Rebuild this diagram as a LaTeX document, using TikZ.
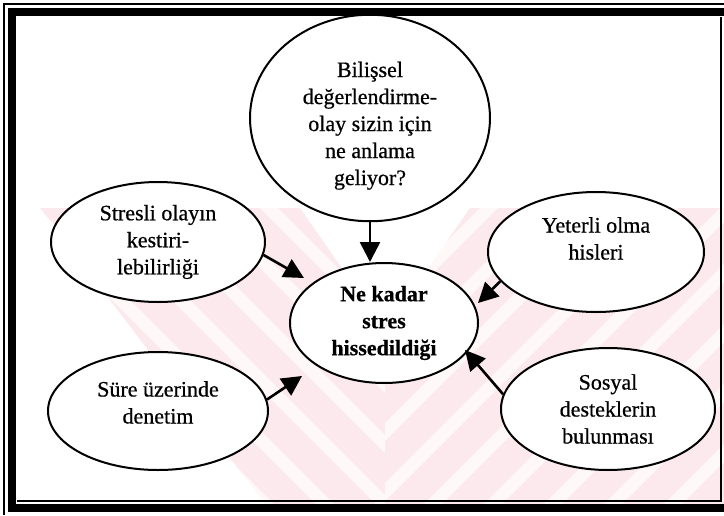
\documentclass[tikz,border=0pt]{standalone}
\usepackage{fontspec}
\setmainfont{Liberation Serif}
\newfontfamily\scanserif{Liberation Serif}[FakeBold=0.6]
\usetikzlibrary{shapes,arrows.meta,positioning}
\definecolor{wmpink}{RGB}{252,233,237}

\tikzset{
  bubble/.style={draw, ellipse, line width=1pt, fill=white, inner sep=0pt, align=center, font=\scanserif\fontsize{11}{13.5}\selectfont},
  link/.style={-{Triangle[length=10pt,width=10pt]}, line width=1.3pt},
}

\begin{document}
\begin{tikzpicture}[x=0.5pt, y=-0.5pt]
\useasboundingbox (0,0) rectangle (724,515);

% Watermark in the background
\fill[wmpink] (40,208) -- (300,208) -- (385,330) -- (470,208) -- (724,208) -- (724,504) -- (265,504) -- cycle;
\begin{scope}
\clip (0,200) rectangle (385,510);
\foreach \s in {-160,-100,...,400}
  \fill[white, opacity=0.7] (\s,208) -- (\s+18,208) -- (\s+318,508) -- (\s+300,508) -- cycle;
\end{scope}
\begin{scope}
\clip (385,200) rectangle (724,510);
\foreach \s in {420,480,...,1080}
  \fill[white, opacity=0.7] (\s,208) -- (\s+18,208) -- (\s-282,508) -- (\s-300,508) -- cycle;
\end{scope}

% Frame
\draw[line width=4pt] (12,12) rectangle (732,508);
\draw[line width=0.6pt] (4,515) -- (4,4) -- (724,4);
\draw[line width=0.6pt] (17,501) -- (721,501) -- (721,17);

% Ellipses
\node[bubble, minimum width=120pt, minimum height=97pt, text height=70pt, text depth=3pt] (appraisal) at (370,118) {Bilişsel\\değerlendirme-\\olay sizin için\\ne anlama\\geliyor?};
\node[bubble, minimum width=107pt, minimum height=60pt] (predict) at (158,242) {Stresli olayın\\kestiri-\\lebilirliği};
\node[bubble, minimum width=110pt, minimum height=59pt, text height=15.5pt, text depth=3pt] (control) at (158,411) {Süre üzerinde\\denetim};
\node[bubble, minimum width=94pt, minimum height=60pt, font=\scanserif\fontsize{11}{13.5}\selectfont\bfseries] (stress) at (384,323) {Ne kadar\\stres\\hissedildiği};
\node[bubble, minimum width=108pt, minimum height=60pt, text height=10.5pt, text depth=3pt] (adequacy) at (596,252) {Yeterli olma\\hisleri};
\node[bubble, minimum width=107pt, minimum height=61pt] (support) at (608,409) {Sosyal\\desteklerin\\bulunması};

% Arrow tips
\coordinate (tipA) at (370,262);
\coordinate (tipP) at (304,278);
\coordinate (tipC) at (302,376);
\coordinate (tipY) at (478,303);
\coordinate (tipS) at (465,350);

% Arrows
\draw[link] (appraisal.south) -- (tipA);
\draw[link] (predict.-7) -- (tipP);
\draw[link] (control.6) -- (tipC);
\draw[link] (adequacy.197) -- (tipY);
\draw[link] (support.172) -- (tipS);
\end{tikzpicture}
\end{document}
